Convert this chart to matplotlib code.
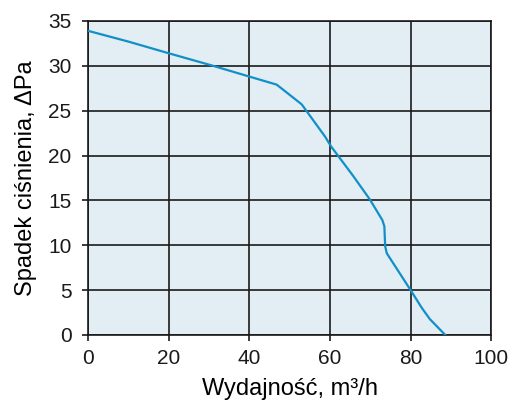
import numpy as np
import matplotlib.pyplot as plt

plt.rcParams['font.family'] = ['Liberation Sans', 'DejaVu Sans']

flow = [0, 10, 20, 31, 40, 46.8, 53, 58.8, 60.3, 65.8, 69.9, 73.0, 73.5, 73.7, 74.1, 80.0, 82.8, 84.8, 88.6]
dp = [33.9, 32.7, 31.4, 30.0, 28.8, 27.9, 25.7, 22.1, 21.0, 17.7, 15.1, 12.8, 12.1, 9.9, 9.1, 5.0, 3.0, 1.75, 0]

xticks = [0, 20, 40, 60, 80, 100]
yticks = [0, 5, 10, 15, 20, 25, 30, 35]

fig = plt.figure(figsize=(5.09, 4.03), dpi=100)
ax = fig.add_axes([0.173, 0.169, 0.792, 0.779])
ax.set_facecolor('#e2edf4')

ax.plot(flow, dp, color='#1190c8', lw=1.6, zorder=3)

ax.set_xlim(0, 100)
ax.set_ylim(0, 35)
ax.set_xticks(xticks)
ax.set_yticks(yticks)
ax.grid(True, color='#1a1a1a', lw=1.2)
for s in ax.spines.values():
    s.set_color('#1a1a1a')
    s.set_linewidth(1.2)
ax.tick_params(length=4, width=1.2, labelsize=15, colors='#1a1a1a')
ax.tick_params(axis='x', pad=6)
ax.tick_params(axis='y', pad=8)

ax.set_xlabel('Wydajność, m³/h', fontsize=17, labelpad=7)
ax.set_ylabel('Spadek ciśnienia, ΔPa', fontsize=17, labelpad=8)

fig.savefig('out.png', dpi=100)
